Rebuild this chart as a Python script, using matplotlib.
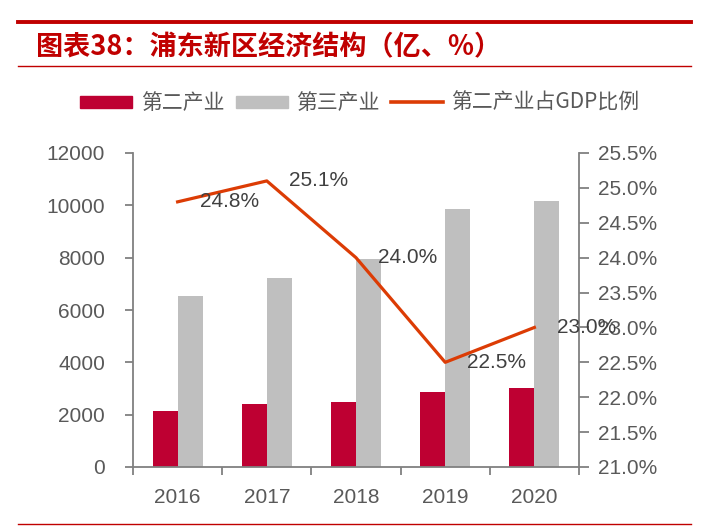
import matplotlib
matplotlib.use('Agg')
import matplotlib.pyplot as plt
from matplotlib.patches import Patch
from matplotlib.lines import Line2D
import numpy as np

# data
years = ['2016', '2017', '2018', '2019', '2020']
secondary = [2150, 2420, 2500, 2850, 3030]
tertiary = [6540, 7210, 7940, 9850, 10150]
share = [24.8, 25.1, 24.0, 22.5, 23.0]

RED = '#BE0032'
GRAY = '#BFBFBF'
LINE = '#DC3C05'
TXT = '#595959'

plt.rcParams['font.family'] = ['Liberation Sans', 'DejaVu Sans']

fig = plt.figure(figsize=(7.13, 5.28), dpi=100)
W, H = 713, 528

# header decoration
fig.add_artist(Line2D([18 / W, 691 / W], [1 - 22 / H, 1 - 22 / H], color='#C00000', lw=2.8))
fig.add_artist(Line2D([18 / W, 691 / W], [1 - 66 / H, 1 - 66 / H], color='#C00000', lw=1.0))
fig.add_artist(Line2D([18 / W, 691 / W], [1 - 524 / H, 1 - 524 / H], color='#C00000', lw=1.0))
fig.text(36 / W, 1 - 47 / H, '图表38：浦东新区经济结构（亿、%）', color='#C00000',
         fontsize=19.5, fontweight='bold', style='italic',
         family=['Noto Sans CJK SC', 'DejaVu Sans'], va='center', ha='left')

ax = fig.add_axes([133 / W, 1 - 467 / H, (579 - 133) / W, (467 - 153) / H])
x = np.arange(len(years))
w = 0.28
ax.bar(x - w / 2, secondary, w, color=RED, zorder=2)
ax.bar(x + w / 2, tertiary, w, color=GRAY, zorder=2)
ax.set_xlim(-0.5, 4.5)
ax.set_ylim(0, 12000)
ax.set_yticks(range(0, 12001, 2000))
ax.set_xticks(np.arange(-0.5, 5, 1))
ax.set_xticklabels([])
ax.set_xticks(x, minor=True)
ax.set_xticklabels(years, minor=True)
ax.tick_params(axis='x', which='major', length=6, width=1.3, color='#808080', direction='out')
ax.tick_params(axis='x', which='minor', length=0, pad=15, labelsize=15, labelcolor=TXT)
ax.tick_params(axis='y', length=6, width=1.3, color='#808080', pad=14, labelsize=15, labelcolor=TXT)
for s in ['top', 'right']:
    ax.spines[s].set_visible(False)
for s in ['left', 'bottom']:
    ax.spines[s].set_color('#808080')
    ax.spines[s].set_linewidth(1.3)

ax2 = ax.twinx()
ax2.plot(x, share, color=LINE, lw=2.3, zorder=3)
ax2.set_ylim(21.0, 25.5)
ax2.set_yticks(np.arange(21.0, 25.51, 0.5))
ax2.set_yticklabels([f'{v:.1f}%' for v in np.arange(21.0, 25.51, 0.5)])
ax2.tick_params(axis='y', length=7, width=1.3, color='#808080', pad=7, labelsize=15, labelcolor=TXT)
for s in ['top', 'left', 'bottom']:
    ax2.spines[s].set_visible(False)
ax2.spines['right'].set_color('#808080')
ax2.spines['right'].set_linewidth(1.3)
for xi, v in zip(x, share):
    ax2.annotate(f'{v:.1f}%', (xi, v), xytext=(16, 0), textcoords='offset points',
                 ha='left', va='center', fontsize=15, color='#404040')

handles = [Patch(color=RED), Patch(color=GRAY), Line2D([], [], color=LINE, lw=2.6)]
fig.legend(handles, ['第二产业', '第三产业', '第二产业占GDP比例'], loc='center',
           bbox_to_anchor=(360 / W, 1 - 103 / H), ncol=3, frameon=False,
           prop={'family': ['Noto Sans CJK SC', 'DejaVu Sans'], 'size': 15},
           labelcolor=TXT, handlelength=2.5, handleheight=0.5, handletextpad=0.4,
           columnspacing=0.55)

fig.savefig('out.png', dpi=100)
